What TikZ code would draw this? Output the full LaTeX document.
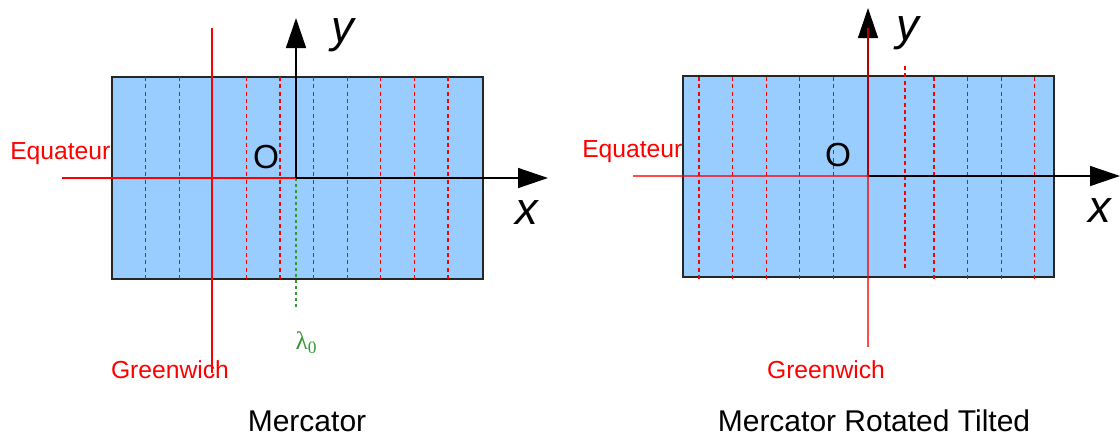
\documentclass[tikz,border=0pt]{standalone}
\usepackage{fontspec}
\setmainfont{Liberation Sans}
\newfontfamily\lamfont{Liberation Serif}
\usetikzlibrary{arrows.meta}
\definecolor{mapblue}{HTML}{99CCFF}
\definecolor{lamgreen}{HTML}{339933}

\begin{document}
\begin{tikzpicture}[
  x=0.75pt, y=-0.75pt,
  mapbox/.style={draw=black!85, fill=mapblue, line width=0.9pt},
  meridian/.style={draw=red, line width=0.8pt, dash pattern=on 3pt off 2.5pt},
  refline/.style={draw=red, line width=0.8pt},
  lamline/.style={draw=lamgreen, line width=0.9pt, dash pattern=on 2.5pt off 2pt},
  axis/.style={draw=black, line width=1.1pt, -{Triangle[length=22.5pt, width=15pt]}},
  reflabel/.style={text=red, inner sep=0pt, font=\fontsize{18.5}{20}\selectfont},
  title/.style={inner sep=0pt, font=\fontsize{22.5}{24}\selectfont},
  origin/.style={inner sep=0pt, font=\fontsize{25}{27}\selectfont},
  axlabel/.style={inner sep=0pt, font=\itshape\fontsize{34}{36}\selectfont}
]
\useasboundingbox (0,0) rectangle (1120,436);

% --- left: Mercator ---
\draw[mapbox] (112,77) rectangle (483,279);
\foreach \k in {1,2,4,5,6,7,8,9,10}
  \draw[meridian] ({112+33.6*\k},77) -- ({112+33.6*\k},279);

\coordinate (O1) at (296,178);
\coordinate (ytip1) at (296,18);
\coordinate (xtip1) at (548,178);
\coordinate (eqW1) at (62,178);
\coordinate (gwN1) at (212,28);
\coordinate (gwS1) at (212,373);
\coordinate (lamS) at (296,310);

\draw[refline] (eqW1) -- (O1);
\draw[refline] (gwN1) -- (gwS1);
\draw[lamline] (O1) -- (lamS);
\draw[axis] (O1) -- (ytip1);
\draw[axis] (O1) -- (xtip1);

\node[reflabel, anchor=base west] (equ1) at (10,159) {Equateur};
\node[reflabel, anchor=base] (gw1) at (170,378) {Greenwich};
\node[origin, anchor=base] (o1) at (266,168) {O};
\node[axlabel, anchor=base] (y1) at (343,42) {y};
\node[axlabel, anchor=base] (x1) at (527,224) {x};
\node[inner sep=0pt, text=lamgreen, font=\lamfont\fontsize{19}{20}\selectfont, anchor=base] (lam) at (306,349)
  {λ\raisebox{-0.35ex}{\fontsize{13}{14}\selectfont 0}};
\node[title, anchor=base] (merc) at (307,431) {Mercator};

% --- right: Mercator Rotated Tilted ---
\draw[mapbox] (683,76) rectangle (1054,277);
\foreach \k in {0,...,4}
  \draw[meridian] ({699+33.6*\k},77) -- ({699+33.6*\k},281);
\foreach \k in {0,...,3}
  \draw[meridian] ({934+33.6*\k},77) -- ({934+33.6*\k},281);
\draw[meridian] (905,66) -- (905,268);

\coordinate (O2) at (868,176);
\coordinate (ytip2) at (868,8);
\coordinate (xtip2) at (1120,176);
\coordinate (eqW2) at (633,176);
\coordinate (gwN2) at (868,28);
\coordinate (gwS2) at (868,347);

\draw[axis] (O2) -- (ytip2);
\draw[axis] (O2) -- (xtip2);
\draw[refline, opacity=0.7] (eqW2) -- (O2);
\draw[refline, opacity=0.7] (gwN2) -- (gwS2);

\node[reflabel, anchor=base west] (equ2) at (582,157) {Equateur};
\node[reflabel, anchor=base] (gw2) at (826,378) {Greenwich};
\node[origin, anchor=base] (o2) at (838,166) {O};
\node[axlabel, anchor=base] (y2) at (908,40) {y};
\node[axlabel, anchor=base] (x2) at (1100,222) {x};
\node[title, anchor=base] (mrt) at (874,431) {Mercator Rotated Tilted};

\end{tikzpicture}
\end{document}
